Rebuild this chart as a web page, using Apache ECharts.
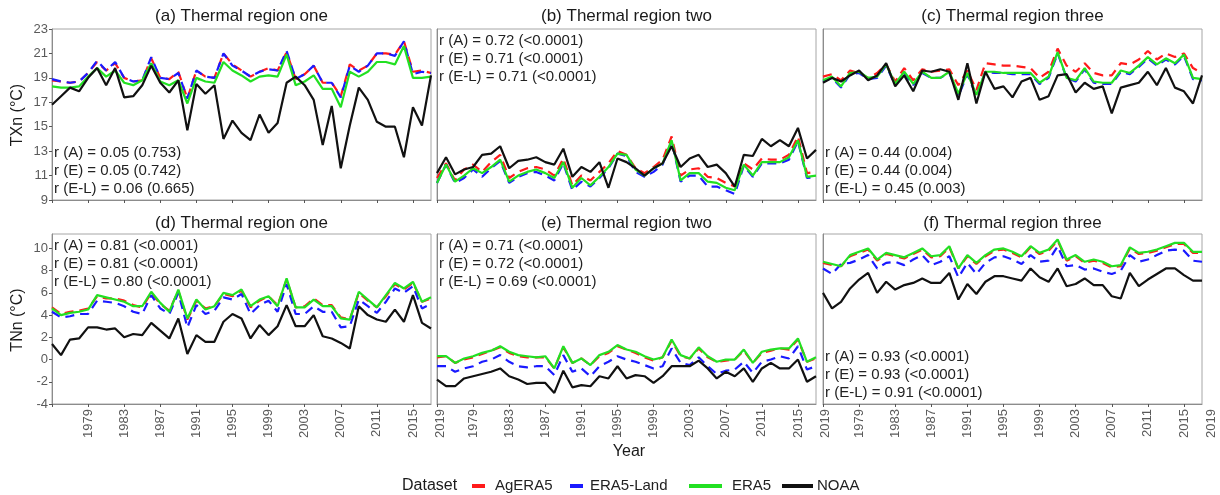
<!DOCTYPE html>
<html>
<head>
<meta charset="utf-8">
<script src="https://cdn.jsdelivr.net/npm/echarts@6/dist/echarts.min.js"></script>
<style>
  html, body { margin: 0; padding: 0; background: #fff; }
  #chart { width: 1220px; height: 495px; }
</style>
</head>
<body>
<div id="chart"></div>
<script>
// Years of record
const years = [1975,1976,1977,1978,1979,1980,1981,1982,1983,1984,1985,1986,1987,1988,1989,1990,1991,1992,1993,1994,1995,1996,1997,1998,1999,2000,2001,2002,2003,2004,2005,2006,2007,2008,2009,2010,2011,2012,2013,2014,2015,2016,2017];
const xTickValues = [1975,1979,1983,1987,1991,1995,1999,2003,2007,2011,2015];
const xLabelValues = [1979,1983,1987,1991,1995,1999,2003,2007,2011,2015];
const txTicks = [9,11,13,15,17,19,21,23];
const tnTicks = [-4,-2,0,2,4,6,8,10];
const datasetNames = ['AgERA5','ERA5-Land','ERA5','NOAA'];

// TXn, thermal region one
const txOneAg   = [18.8,18.7,18.6,18.7,19.4,20.3,19.6,20.2,19.0,18.7,18.8,20.6,19.0,18.9,19.5,17.3,19.6,19.1,19.0,21.0,20.1,19.6,19.1,19.5,19.8,19.6,21.1,18.9,19.3,20.0,18.6,18.6,17.5,20.1,19.6,20.0,21.0,21.0,20.9,22.0,19.5,19.6,19.4];
const txOneLand = [18.9,18.7,18.6,18.7,19.4,20.4,19.6,20.3,19.0,18.7,18.8,20.7,19.0,18.9,19.4,17.3,19.6,19.1,19.0,21.0,20.0,19.6,19.1,19.5,19.7,19.6,21.2,18.9,19.3,20.0,18.6,18.6,17.4,20.0,19.5,20.0,21.0,21.0,20.8,22.0,19.3,19.5,19.4];
const txOneEra5 = [18.3,18.2,18.2,18.3,19.1,19.8,19.1,19.6,18.6,18.4,18.8,20.2,18.7,18.4,18.8,16.9,19.0,18.7,18.6,20.3,19.6,19.2,18.7,19.1,19.2,19.1,20.9,18.4,18.7,19.2,18.1,18.1,16.6,19.5,19.1,19.5,20.3,20.3,20.1,21.6,19.0,19.0,19.1];
const txOneNoaa = [16.8,17.5,18.2,17.9,19.0,19.8,18.4,19.8,17.4,17.5,18.4,20.0,18.6,17.8,18.8,14.7,18.5,17.7,18.4,14.0,15.5,14.5,13.9,16.0,14.5,15.3,18.6,19.1,18.4,17.2,13.5,16.7,11.6,15.1,18.2,17.2,15.4,15.0,15.0,12.5,16.6,15.1,19.2];

// TXn, thermal region two
const txTwoAg   = [10.8,12.0,10.6,11.5,11.9,11.3,12.1,12.7,10.8,11.3,11.6,11.7,11.5,11.0,12.4,10.2,11.0,10.6,11.3,12.0,13.0,12.7,11.6,11.2,11.7,12.3,14.2,11.0,11.5,11.6,10.9,10.8,10.4,10.1,12.0,11.5,12.4,12.3,12.3,12.7,14.2,11.2,11.3];
const txTwoLand = [10.4,11.9,10.4,10.8,11.5,10.9,11.6,12.2,10.4,10.9,11.2,11.3,11.0,10.6,12.0,9.8,10.5,10.1,10.8,11.6,12.8,12.6,11.3,10.9,11.3,11.9,13.8,10.5,11.0,11.0,10.1,10.1,9.8,9.5,11.8,10.9,12.0,12.0,12.0,12.3,13.8,10.8,10.9];
const txTwoEra5 = [10.4,11.9,10.5,11.0,11.6,11.2,11.7,12.3,10.5,11.0,11.3,11.5,11.2,10.8,12.1,10.0,10.8,10.2,10.9,11.7,12.8,12.7,11.5,11.0,11.6,12.0,13.9,10.6,11.2,11.2,10.5,10.4,10.0,9.8,11.9,11.0,12.1,12.1,12.1,12.5,13.9,10.9,11.0];
const txTwoNoaa = [11.2,12.5,11.1,11.5,11.7,12.7,12.8,13.4,11.6,12.2,12.3,12.5,12.1,11.9,13.2,10.9,11.7,11.3,12.1,10.0,12.4,12.1,11.6,11.0,11.6,12.0,13.4,11.7,12.4,12.7,11.7,11.9,11.2,10.1,12.7,12.6,14.0,13.4,13.9,13.4,14.9,12.4,13.1];

// TXn, thermal region three
const txThreeAg   = [19.1,19.3,18.8,19.6,19.4,19.0,19.4,20.1,18.7,19.8,18.8,19.7,19.5,19.6,19.7,18.4,19.6,18.0,20.2,20.1,20.0,20.0,19.9,19.8,19.0,19.5,21.4,20.0,19.5,20.2,19.4,19.2,19.2,20.2,20.1,20.5,21.2,20.5,21.0,20.7,21.0,19.8,19.4];
const txThreeLand = [18.7,19.0,18.2,19.3,19.4,18.9,19.0,20.0,18.4,19.4,18.4,19.4,19.0,19.0,19.4,17.5,19.3,17.5,19.5,19.4,19.4,19.3,19.3,19.3,18.5,19.0,21.0,19.0,18.7,19.7,18.6,18.5,18.5,19.5,19.3,19.9,20.6,20.0,20.5,20.1,20.8,18.9,18.8];
const txThreeEra5 = [18.8,19.1,18.3,19.4,19.5,19.0,19.1,20.1,18.5,19.5,18.5,19.5,19.0,19.0,19.5,17.7,19.4,17.6,19.5,19.5,19.4,19.4,19.4,19.4,18.6,19.1,21.1,19.0,18.8,19.8,18.7,18.6,18.6,19.6,19.4,20.0,20.7,20.1,20.6,20.2,20.9,19.0,18.9];
const txThreeNoaa = [18.6,19.0,18.7,19.2,19.6,18.8,19.2,20.2,18.3,19.2,17.9,19.6,19.5,19.7,19.5,17.2,20.2,16.9,19.5,18.1,18.3,17.4,18.7,19.0,17.2,17.5,19.2,19.3,17.8,18.6,18.1,18.3,16.1,18.2,18.4,18.6,19.5,18.4,19.8,18.2,17.9,16.9,19.2];

// TNn, thermal region one
const tnOneAg   = [4.7,4.1,4.3,4.4,4.6,5.7,5.5,5.5,5.3,4.9,4.7,6.0,5.0,4.4,6.2,3.6,5.3,4.6,4.8,5.9,5.7,6.2,4.7,5.3,5.7,4.9,7.2,4.7,4.8,5.5,4.9,4.9,3.8,3.6,6.0,5.3,4.7,5.7,6.8,6.3,6.9,5.2,5.5];
const tnOneLand = [4.3,3.8,3.9,4.1,4.1,5.3,5.2,5.1,4.8,4.3,4.1,5.8,4.6,4.1,6.0,2.9,4.9,4.1,4.4,5.6,5.4,5.9,4.1,4.9,5.3,4.3,6.8,4.1,4.1,4.8,4.3,4.3,2.9,3.0,5.4,4.8,4.2,5.2,6.4,6.0,6.6,4.6,5.0];
const tnOneEra5 = [4.6,4.0,4.2,4.3,4.5,5.8,5.6,5.4,5.2,4.8,4.8,6.1,5.1,4.3,6.3,3.7,5.4,4.5,4.8,6.0,5.8,6.3,4.8,5.4,5.7,4.8,7.3,4.7,4.7,5.4,4.8,4.8,3.7,3.6,6.1,5.4,4.7,5.8,6.9,6.4,7.0,5.2,5.6];
const tnOneNoaa = [1.4,0.4,1.8,1.9,2.9,2.9,2.7,2.8,2.0,2.3,2.2,3.3,2.6,1.9,3.7,0.5,2.2,1.6,1.6,3.4,4.1,3.7,1.9,3.1,2.2,3.0,4.9,3.0,3.0,4.0,2.1,1.9,1.5,1.0,4.8,4.0,3.6,3.4,4.5,3.4,5.8,3.3,2.8];

// TNn, thermal region two
const tnTwoAg   = [0.2,0.3,-0.3,0.0,0.2,0.5,0.8,1.1,0.6,0.3,0.2,0.2,0.2,-0.8,1.1,-0.3,0.1,-0.5,0.3,0.6,1.2,0.9,0.6,0.2,-0.1,0.2,1.7,0.3,0.1,1.0,0.2,-0.2,-0.1,0.0,0.8,-0.3,0.6,0.8,1.0,0.9,1.8,-0.2,0.1];
const tnTwoLand = [-0.6,-0.6,-1.1,-0.8,-0.6,-0.2,0.0,0.4,-0.2,-0.6,-0.7,-0.6,-0.6,-1.4,0.4,-1.1,-0.8,-1.5,-0.6,-0.2,0.3,0.0,-0.2,-0.5,-0.8,-0.6,1.0,-0.3,-0.5,0.2,-0.6,-1.3,-1.0,-0.9,-0.2,-1.2,-0.2,0.0,0.3,0.1,1.2,-0.9,-0.6];
const tnTwoEra5 = [0.3,0.3,-0.3,0.1,0.3,0.6,0.8,1.2,0.7,0.4,0.3,0.2,0.3,-0.8,1.2,-0.3,0.1,-0.5,0.4,0.7,1.3,0.9,0.7,0.3,0.0,0.2,1.8,0.4,0.1,1.1,0.3,-0.2,0.0,0.0,0.9,-0.3,0.7,0.9,1.0,1.0,1.9,-0.2,0.2];
const tnTwoNoaa = [-1.8,-2.4,-2.4,-1.7,-1.5,-1.3,-1.1,-0.8,-1.5,-1.8,-2.2,-2.1,-2.1,-3.0,-1.0,-2.5,-2.3,-2.4,-1.5,-1.7,-0.6,-1.7,-1.4,-1.5,-2.1,-1.5,-0.6,-0.6,-0.6,-0.1,-0.8,-1.7,-1.1,-1.5,-0.8,-2.0,-0.8,-0.3,-0.8,-0.8,0.0,-2.0,-1.5];

// TNn, thermal region three
const tnThreeAg   = [8.7,8.5,8.4,9.3,9.6,9.9,8.9,9.5,9.3,9.1,9.5,9.9,9.2,9.3,10.1,8.2,9.3,8.6,9.3,9.8,9.9,9.6,9.2,10.1,9.5,9.8,10.7,8.9,9.3,8.7,8.9,8.7,8.3,8.4,10.0,9.5,9.6,9.8,10.1,10.4,10.4,9.6,9.6];
const tnThreeLand = [8.2,7.7,8.6,8.7,9.0,9.4,8.2,8.7,8.8,8.5,9.0,9.4,8.5,8.8,9.3,7.4,8.7,7.7,8.7,9.2,9.3,9.0,8.6,9.4,8.8,8.9,10.2,8.4,8.5,8.1,8.2,7.9,7.7,8.0,9.4,8.8,9.0,9.4,9.8,9.9,9.8,8.9,8.8];
const tnThreeEra5 = [8.8,8.6,8.4,9.4,9.7,10.0,9.0,9.6,9.4,9.2,9.6,10.0,9.3,9.4,10.2,8.2,9.4,8.7,9.4,9.9,10.0,9.7,9.3,10.2,9.6,9.9,10.8,9.0,9.4,8.8,9.0,8.8,8.4,8.5,10.1,9.6,9.7,9.9,10.2,10.5,10.5,9.7,9.7];
const tnThreeNoaa = [6.0,4.6,5.2,6.4,7.2,7.8,6.0,7.0,6.3,6.7,6.9,7.3,6.9,6.9,7.8,5.4,6.8,5.9,7.0,7.5,7.5,7.3,7.1,8.2,7.4,7.0,8.2,6.6,6.8,7.3,6.7,6.7,5.7,5.5,7.8,6.6,7.2,7.7,8.2,8.2,7.6,7.1,7.1];

// Correlation notes for each panel
const statsA = ['r (A) = 0.05 (0.753)', 'r (E) = 0.05 (0.742)', 'r (E-L) = 0.06 (0.665)'];
const statsB = ['r (A) = 0.72 (<0.0001)', 'r (E) = 0.71 (<0.0001)', 'r (E-L) = 0.71 (<0.0001)'];
const statsC = ['r (A) = 0.44 (0.004)', 'r (E) = 0.44 (0.004)', 'r (E-L) = 0.45 (0.003)'];
const statsD = ['r (A) = 0.81 (<0.0001)', 'r (E) = 0.81 (<0.0001)', 'r (E-L) = 0.80 (<0.0001)'];
const statsE = ['r (A) = 0.71 (<0.0001)', 'r (E) = 0.72 (<0.0001)', 'r (E-L) = 0.69 (<0.0001)'];
const statsF = ['r (A) = 0.93 (<0.0001)', 'r (E) = 0.93 (<0.0001)', 'r (E-L) = 0.91 (<0.0001)'];

// ---- layout & styling ----
const FONT = '"Liberation Sans", Arial, Helvetica, sans-serif';
const colLeft = [52, 437, 823];
const colWidth = 379;
const rowBox = [{ top: 29, height: 171 }, { top: 234, height: 170 }];
const rowTitleY = [16.5, 223.5];
const rowRange = [{ min: 9, max: 23, ticks: txTicks }, { min: -4, max: 11.3, ticks: tnTicks }];
const lineColors = ['#ff1a1a', '#1a1aff', '#22e022', '#111111'];
const lineDash = [[9, 6], [9, 6], 'solid', 'solid'];
const tickLabelColor = '#5a5a5a';

const panels = [
  { title: '(a) Thermal region one',   row: 0, col: 0, series: [txOneAg, txOneLand, txOneEra5, txOneNoaa],       stats: statsA, statsAt: 'bottom' },
  { title: '(b) Thermal region two',   row: 0, col: 1, series: [txTwoAg, txTwoLand, txTwoEra5, txTwoNoaa],       stats: statsB, statsAt: 'top' },
  { title: '(c) Thermal region three', row: 0, col: 2, series: [txThreeAg, txThreeLand, txThreeEra5, txThreeNoaa], stats: statsC, statsAt: 'bottom' },
  { title: '(d) Thermal region one',   row: 1, col: 0, series: [tnOneAg, tnOneLand, tnOneEra5, tnOneNoaa],       stats: statsD, statsAt: 'top' },
  { title: '(e) Thermal region two',   row: 1, col: 1, series: [tnTwoAg, tnTwoLand, tnTwoEra5, tnTwoNoaa],       stats: statsE, statsAt: 'top' },
  { title: '(f) Thermal region three', row: 1, col: 2, series: [tnThreeAg, tnThreeLand, tnThreeEra5, tnThreeNoaa], stats: statsF, statsAt: 'bottom' }
];

const grids = [], xAxes = [], yAxes = [], series = [];
panels.forEach((p, i) => {
  const box = rowBox[p.row];
  const rng = rowRange[p.row];
  grids.push({
    left: colLeft[p.col], top: box.top, width: colWidth, height: box.height,
    show: true, borderColor: '#a6a6a6', borderWidth: 1, backgroundColor: '#fff',
    containLabel: false, outerBoundsMode: 'none'
  });
  xAxes.push({
    type: 'value', gridIndex: i, min: 1975, max: 2017,
    splitLine: { show: false },
    axisLine: { show: true, onZero: false, lineStyle: { color: '#8c8c8c', width: 1 } },
    axisTick: { show: true, length: 3, customValues: xTickValues, lineStyle: { color: '#555' } },
    axisLabel: {
      show: p.row === 1, customValues: xLabelValues, rotate: 90, margin: 5,
      fontSize: 13, color: tickLabelColor, fontFamily: FONT,
      formatter: (v) => String(v)
    }
  });
  yAxes.push({
    type: 'value', gridIndex: i, min: rng.min, max: rng.max,
    splitLine: { show: false },
    axisLine: { show: true, onZero: false, lineStyle: { color: '#8c8c8c', width: 1 } },
    axisTick: { show: p.col === 0, length: 3, customValues: rng.ticks, lineStyle: { color: '#555' } },
    axisLabel: {
      show: p.col === 0, customValues: rng.ticks, margin: 4,
      fontSize: 13, color: tickLabelColor, fontFamily: FONT,
      formatter: (v) => String(v)
    }
  });
  p.series.forEach((vals, j) => {
    series.push({
      type: 'line', name: datasetNames[j], xAxisIndex: i, yAxisIndex: i,
      data: years.map((y, k) => [y, vals[k]]),
      symbol: 'none', z: 2 + j,
      lineStyle: { color: lineColors[j], width: 2.2, type: lineDash[j] },
      itemStyle: { color: lineColors[j] },
      emphasis: { disabled: true }
    });
  });
});

const chart = echarts.init(document.getElementById('chart'), null, { renderer: 'canvas' });
chart.setOption({
  animation: false,
  backgroundColor: '#fff',
  textStyle: { fontFamily: FONT },
  grid: grids,
  xAxis: xAxes,
  yAxis: yAxes,
  series: series
});

// ---- text layer: panel titles, notes, axis names, legend ----
const elements = [];
function text(x, y, str, opts) {
  elements.push(Object.assign({
    type: 'text', x: x, y: y, silent: true,
    style: Object.assign({ text: str, fontFamily: FONT, fill: '#1a1a1a', align: 'left', verticalAlign: 'middle' }, opts.style || {})
  }, opts.el || {}));
}

panels.forEach((p) => {
  const box = rowBox[p.row];
  const left = colLeft[p.col];
  text(left + colWidth / 2, rowTitleY[p.row], p.title, { style: { fontSize: 17, align: 'center' } });
  p.stats.forEach((s, n) => {
    const y = p.statsAt === 'top'
      ? box.top + 11.5 + 18.3 * n
      : box.top + box.height - 11 - 18.3 * (2 - n);
    text(left + 2, y, s, { style: { fontSize: 15, fill: '#222' } });
  });
});

text(18, 115, 'TXn (°C)', { style: { fontSize: 16, align: 'center' }, el: { rotation: Math.PI / 2 } });
text(18, 320, 'TNn (°C)', { style: { fontSize: 16, align: 'center' }, el: { rotation: Math.PI / 2 } });
text(629, 452, 'Year', { style: { fontSize: 16, align: 'center' } });

// legend row: caption, then one key + name per dataset
const legendY = 486;
text(402, legendY, 'Dataset', { style: { fontSize: 16 } });
const keyLeft = [463.5, 561.5, 689, 782];
const keyWidth = [30, 30, 33, 31];
const nameLeft = [495, 590, 732, 817];
datasetNames.forEach((name, j) => {
  const dashed = lineDash[j] !== 'solid';
  elements.push({
    type: 'line', silent: true,
    shape: { x1: keyLeft[j], y1: legendY, x2: keyLeft[j] + keyWidth[j], y2: legendY },
    style: Object.assign(
      { stroke: lineColors[j], lineWidth: 4, lineCap: 'butt' },
      dashed ? { lineDash: [13, 17], lineDashOffset: 21.5 } : {}
    )
  });
  text(nameLeft[j], legendY, name, { style: { fontSize: 15, fill: '#222' } });
});

// the closing "2019" label sits one year past each lower panel's last tick
[3, 4, 5].forEach((i) => {
  const px = chart.convertToPixel({ xAxisIndex: i }, 2018);
  const top = rowBox[1].top + rowBox[1].height + 5;
  text(px, top, '2019', {
    style: { fontSize: 13, fill: tickLabelColor, align: 'right' },
    el: { rotation: Math.PI / 2 }
  });
});

chart.setOption({ graphic: { elements: elements } });
</script>
</body>
</html>
